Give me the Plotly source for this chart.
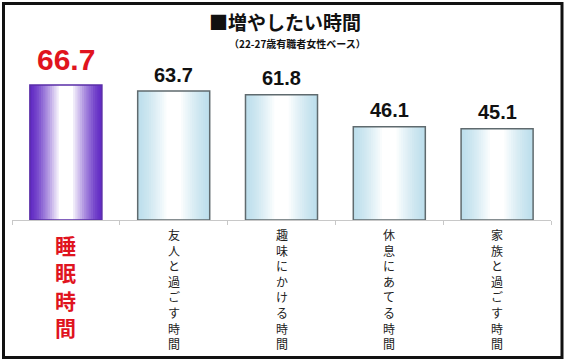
import plotly.graph_objects as go

categories = ["睡眠時間", "友人と過ごす時間", "趣味にかける時間", "休息にあてる時間", "家族と過ごす時間"]
values = [66.7, 63.7, 61.8, 46.1, 45.1]
value_labels = ["66.7", "63.7", "61.8", "46.1", "45.1"]
title_text = "■増やしたい時間"
subtitle_text = "（22-27歳有職者女性ベース）"

FONT = "Noto Sans CJK JP"
NUM_FONT = "Liberation Sans"

# layout geometry (pixels)
W, H = 565, 361
L, R = 12, 14
T, B = 58, 141
PW = W - L - R
PH = H - T - B

def px_x(p):
    return (p - L) / PW

def px_y(p):
    return (H - B - p) / PH

BAR_W = 0.668
N = 14
purple_edge = (98, 44, 196)
blue_edge = (190, 223, 236)
white = (255, 255, 255)

def lerp(c1, c2, t):
    return "rgb(%d,%d,%d)" % tuple(round(a + (b - a) * t) for a, b in zip(c1, c2))

fig = go.Figure()
for k in range(N):
    u = 0.40 * k / (N - 1)
    frac = 1 - 2 * u
    t = (k / (N - 1)) ** 1.3
    cols = [lerp(purple_edge if i == 0 else blue_edge, white, t) for i in range(len(categories))]
    fig.add_trace(go.Bar(x=categories, y=values, width=BAR_W * frac,
                         marker=dict(color=cols, line=dict(width=0)),
                         hoverinfo="skip", showlegend=False))
# outline
fig.add_trace(go.Bar(x=categories, y=values, width=BAR_W,
                     marker=dict(color="rgba(0,0,0,0)",
                                 line=dict(width=1.5,
                                           color=["#5a2ea8"] + ["#5f6a6e"] * (len(categories) - 1))),
                     hoverinfo="skip", showlegend=False))

annotations = []
# value labels
for i, (c, v, lab) in enumerate(zip(categories, values, value_labels)):
    if i == 0:
        annotations.append(dict(x=c, y=v, xref="x", yref="y", text="<b>%s</b>" % lab,
                                showarrow=False, yanchor="middle", yshift=25,
                                font=dict(family=NUM_FONT, size=30, color="#e0141e")))
    else:
        annotations.append(dict(x=c, y=v, xref="x", yref="y", text="<b>%s</b>" % lab,
                                showarrow=False, yanchor="middle", yshift=16.5,
                                font=dict(family=NUM_FONT, size=20, color="#111111")))
# vertical category labels, one character per line
for i, c in enumerate(categories):
    if i == 0:
        txt = "<br>".join("<b>%s</b>" % ch for ch in c)
        annotations.append(dict(x=c, y=0, xref="x", yref="y", text=txt,
                                showarrow=False, yanchor="top", xanchor="center",
                                yshift=-8, font=dict(family=FONT, size=21, color="#e0141e")))
    else:
        txt = "<br>".join(c)
        annotations.append(dict(x=c, y=0, xref="x", yref="y", text=txt,
                                showarrow=False, yanchor="top", xanchor="center",
                                yshift=-4, font=dict(family=FONT, size=12, color="#222222")))
# subtitle
annotations.append(dict(x=px_x(297), y=px_y(43), xref="paper", yref="paper",
                        text="<b>%s</b>" % subtitle_text, showarrow=False,
                        xanchor="center", yanchor="middle",
                        font=dict(family=FONT, size=10, color="#111111")))

fig.update_layout(
    width=W, height=H,
    margin=dict(l=L, r=R, t=T, b=B, pad=0),
    barmode="overlay",
    paper_bgcolor="white", plot_bgcolor="white",
    title=dict(text="<b>%s</b>" % title_text, x=285 / W, y=1 - 23.5 / H,
               xanchor="center", yanchor="middle",
               font=dict(family=FONT, size=19, color="#111111")),
    xaxis=dict(type="category", tickson="boundaries", ticks="outside", ticklen=4,
               tickcolor="#c8c8c8", showline=True, linecolor="#c8c8c8", linewidth=1,
               showticklabels=False, showgrid=False, zeroline=False, fixedrange=True),
    yaxis=dict(range=[0, 80], visible=False, fixedrange=True),
    annotations=annotations,
    shapes=[dict(type="rect", xref="paper", yref="paper",
                 x0=px_x(3.5), x1=px_x(562), y0=px_y(357.5), y1=px_y(3.5),
                 line=dict(color="#111111", width=3), layer="above")],
)

fig.write_html("out.html", config={"displayModeBar": False},
               post_script="document.body.style.margin='0px';document.body.style.overflow='hidden';")
